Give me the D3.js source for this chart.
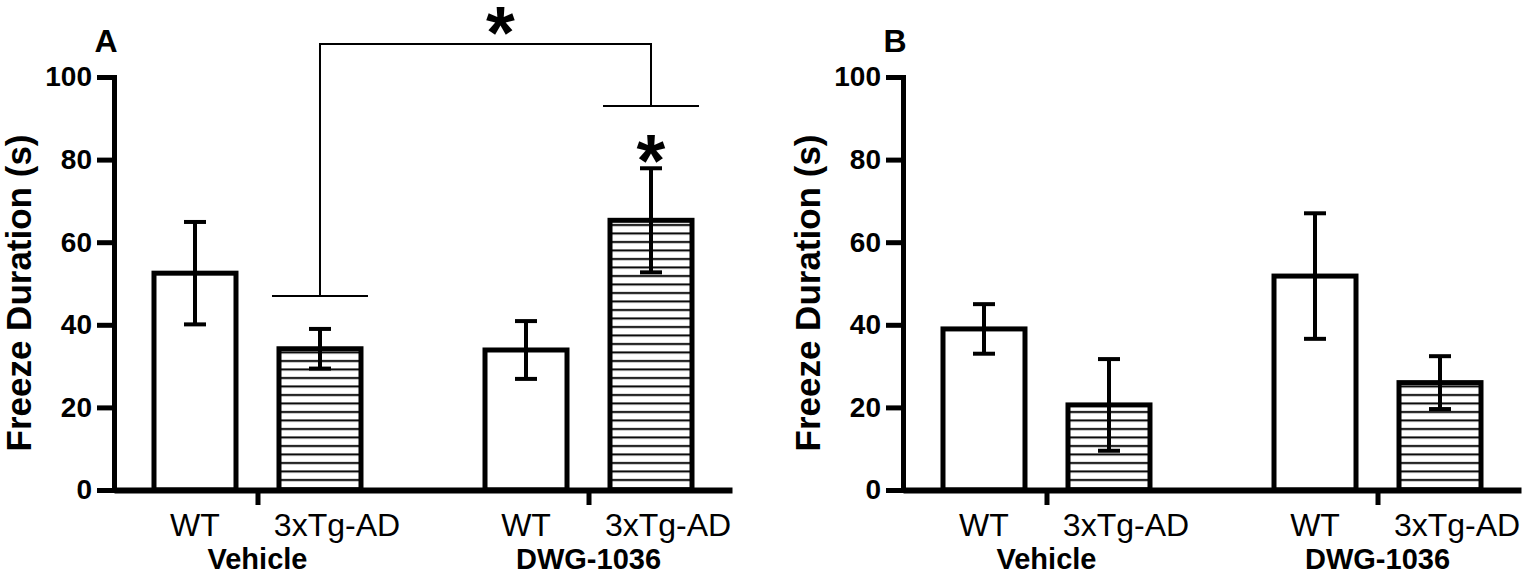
<!DOCTYPE html>
<html>
<head>
<meta charset="utf-8">
<script src="https://cdn.jsdelivr.net/npm/d3@7"></script>
<style>
  body { margin: 0; background: #fff; }
  svg { display: block; font-family: "Liberation Sans", Arial, sans-serif; }
</style>
</head>
<body>
<script>
// values (mean +/- SEM, seconds)
var groups = ["Vehicle", "DWG-1036"];
var genotypes = ["WT", "3xTg-AD"];
var meanA = [52.5, 34.2, 33.9, 65.3];
var semA  = [12.4, 4.8, 7.0, 12.6];
var meanB = [39.0, 20.6, 51.8, 26.0];
var semB  = [6.0, 11.1, 15.2, 6.4];
var yTicks = [0, 20, 40, 60, 80, 100];
var panelLetters = ["A", "B"];
var yTitle = "Freeze Duration (s)";

// significance bracket in panel A (y values in seconds)
var bracketLegs = [47, 93];
var bracketTop = 108;
var starLevels = [114.5, 83.5];

var width = 1522, height = 575;
var axisLen = 618, barW = 82;

var svg = d3.select('body')
  .append('svg')
  .attr('width', width)
  .attr('height', height);

var defs = svg.append('defs');
var hatch = defs.append('pattern')
  .attr('id', 'hatch')
  .attr('patternUnits', 'userSpaceOnUse')
  .attr('width', 10)
  .attr('height', 8.5);
hatch.append('rect')
  .attr('width', 10).attr('height', 8.5)
  .attr('fill', '#fff');
hatch.append('line')
  .attr('x1', 0).attr('x2', 10)
  .attr('y1', 4).attr('y2', 4)
  .attr('stroke', '#000')
  .attr('stroke-width', 2);

var y = d3.scaleLinear()
  .domain([0, 100])
  .range([490, 77]);

var gx = d3.scalePoint()
  .domain(groups)
  .range([0, axisLen])
  .padding(0.4335);

var sx = d3.scalePoint()
  .domain(genotypes)
  .range([-62.5, 62.5]);

function rows(means, sems) {
  var out = [];
  groups.forEach(function (g, gi) {
    genotypes.forEach(function (t, ti) {
      var i = gi * genotypes.length + ti;
      out.push({ group: g, geno: t, mean: means[i], sem: sems[i] });
    });
  });
  return out;
}

function cx(d) { return gx(d.group) + sx(d.geno); }

var panel = function (x0, letter, means, sems) {
  var data = rows(means, sems);
  var main = svg.append('g')
    .attr('transform', 'translate(' + x0 + ',0)');

  // bars
  main.selectAll('rect.bar')
    .data(data)
    .enter().append('rect')
      .attr('class', 'bar')
      .attr('x', function (d) { return cx(d) - barW / 2; })
      .attr('y', function (d) { return y(d.mean); })
      .attr('width', barW)
      .attr('height', function (d) { return y(0) - y(d.mean); })
      .attr('fill', function (d) { return d.geno == 'WT' ? '#fff' : 'url(#hatch)'; })
      .attr('stroke', '#000')
      .attr('stroke-width', 5);

  // error bars
  var err = main.selectAll('g.err')
    .data(data)
    .enter().append('g')
      .attr('class', 'err')
      .attr('stroke', '#000')
      .attr('stroke-width', 4);
  err.append('line')
    .attr('x1', cx).attr('x2', cx)
    .attr('y1', function (d) { return y(d.mean - d.sem); })
    .attr('y2', function (d) { return y(d.mean + d.sem); });
  [1, -1].forEach(function (s) {
    err.append('line')
      .attr('x1', function (d) { return cx(d) - 11; })
      .attr('x2', function (d) { return cx(d) + 11; })
      .attr('y1', function (d) { return y(d.mean + s * d.sem); })
      .attr('y2', function (d) { return y(d.mean + s * d.sem); });
  });

  // y axis
  var yAxis = d3.axisLeft(y)
    .tickValues(yTicks)
    .tickSize(17)
    .tickSizeOuter(0)
    .tickPadding(5);
  var ya = main.append('g').call(yAxis);
  ya.select('.domain').attr('stroke-width', 5).attr('stroke-linecap', 'square');
  ya.selectAll('.tick line').attr('stroke-width', 5);
  ya.selectAll('.tick text')
    .attr('font-family', '"Liberation Sans", Arial, sans-serif')
    .attr('font-size', 28)
    .attr('font-weight', 'bold')
    .attr('fill', '#000');

  // x axis, ticks sit between the two bars of each group
  var xAxis = d3.axisBottom(gx)
    .tickSize(15)
    .tickSizeOuter(0)
    .tickFormat('');
  var xa = main.append('g')
    .attr('transform', 'translate(0,' + y(0) + ')')
    .call(xAxis);
  xa.select('.domain').attr('stroke-width', 6);
  xa.selectAll('.tick line').attr('stroke-width', 5);

  // genotype labels
  main.selectAll('text.geno')
    .data(data)
    .enter().append('text')
      .attr('class', 'geno')
      .attr('x', function (d) { return cx(d) + (d.geno == 'WT' ? 0 : 17); })
      .attr('y', 536)
      .attr('text-anchor', 'middle')
      .attr('font-size', 32)
      .text(function (d) { return d.geno; });

  // group labels
  main.selectAll('text.grp')
    .data(groups)
    .enter().append('text')
      .attr('class', 'grp')
      .attr('x', function (d) { return gx(d); })
      .attr('y', 569)
      .attr('text-anchor', 'middle')
      .attr('font-size', 29)
      .attr('font-weight', 'bold')
      .text(function (d) { return d; });

  // y title
  main.append('text')
    .attr('transform', 'translate(-83,' + 293 + ') rotate(-90)')
    .attr('text-anchor', 'middle')
    .attr('font-size', 35)
    .attr('font-weight', 'bold')
    .text(yTitle);

  // panel letter
  main.append('text')
    .attr('x', -8)
    .attr('y', 52)
    .attr('text-anchor', 'middle')
    .attr('font-size', 32)
    .attr('font-weight', 'bold')
    .text(letter);

  return main;
};

var pA = panel(114, panelLetters[0], meanA, semA);
panel(903, panelLetters[1], meanB, semB);

// bracket: Vehicle 3xTg-AD vs DWG-1036 3xTg-AD
var xl = gx(groups[0]) + sx(genotypes[1]);
var xr = gx(groups[1]) + sx(genotypes[1]);
var br = pA.append('g')
  .attr('stroke', '#000')
  .attr('stroke-width', 2)
  .attr('fill', 'none');
br.append('path')
  .attr('d', 'M' + xl + ',' + y(bracketLegs[0]) + 'V' + y(bracketTop) +
             'H' + xr + 'V' + y(bracketLegs[1]));
[[xl, bracketLegs[0]], [xr, bracketLegs[1]]].forEach(function (p) {
  br.append('line')
    .attr('x1', p[0] - 48).attr('x2', p[0] + 48)
    .attr('y1', y(p[1])).attr('y2', y(p[1]));
});

pA.selectAll('text.star')
  .data([[(xl + xr) / 2 + 15, starLevels[0]], [xr, starLevels[1]]])
  .enter().append('text')
    .attr('class', 'star')
    .attr('x', function (d) { return d[0]; })
    .attr('y', function (d) { return y(d[1]) + 41; })
    .attr('text-anchor', 'middle')
    .attr('font-size', 74)
    .attr('font-weight', 'bold')
    .text('*');
</script>
</body>
</html>
